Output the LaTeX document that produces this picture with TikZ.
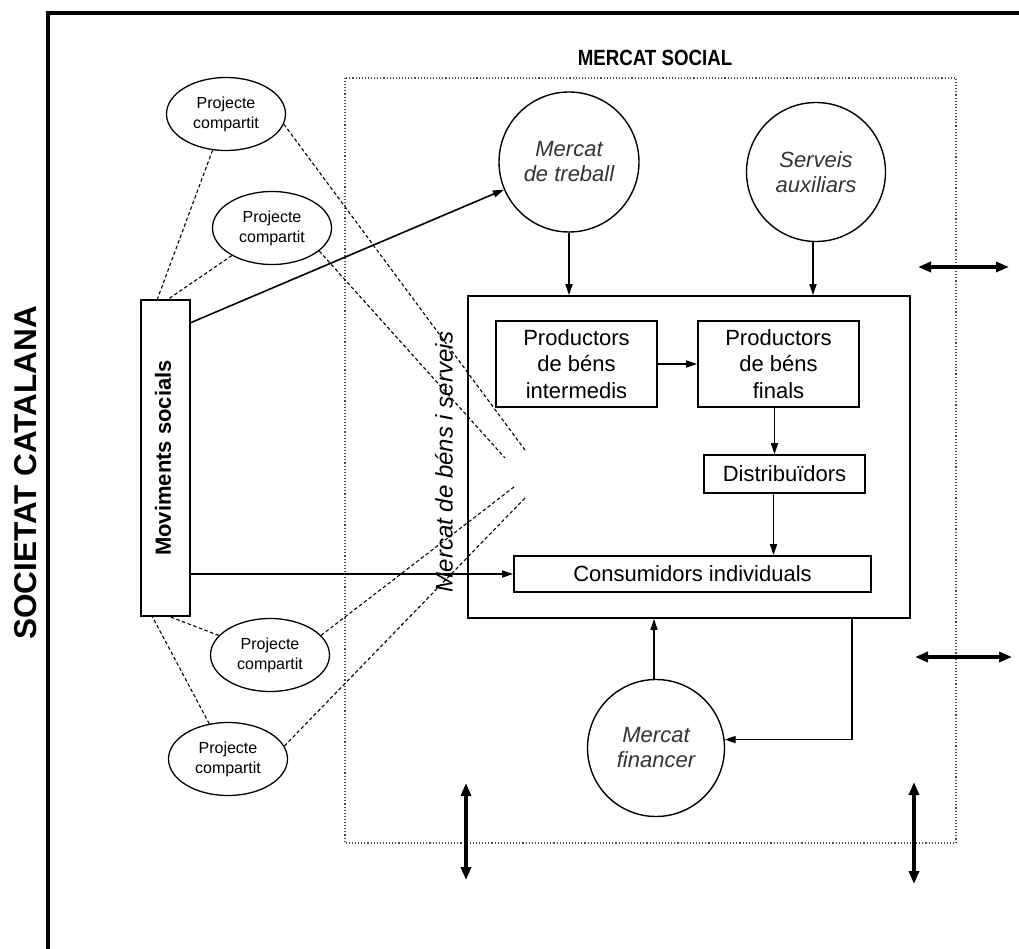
\documentclass[tikz,border=0pt]{standalone}
\usepackage{fontspec}
\setmainfont{Liberation Sans}
\usetikzlibrary{arrows.meta,shapes.geometric}
\begin{document}
\begin{tikzpicture}[x=1pt,y=-1pt,
  box/.style={draw,line width=1.7pt,inner sep=0pt,font=\fontsize{22}{26.5}\selectfont,align=center},
  circ/.style={draw,circle,line width=1.4pt,inner sep=0pt,minimum size=#1,font=\fontsize{22}{25}\selectfont\itshape,text=black!80,align=center},
  proj/.style={draw,ellipse,line width=1.3pt,inner sep=0pt,minimum width=119pt,minimum height=73pt,font=\fontsize{16}{20}\selectfont,align=center},
  arr/.style={-{Triangle[length=11pt,width=7pt]},line width=1.6pt},
  dbl/.style={{Triangle[length=13pt,width=10pt]}-{Triangle[length=13pt,width=10pt]},line width=3.2pt},
  link/.style={dash pattern=on 3.5pt off 2.5pt,line width=1.1pt},
  zone/.style={draw=black!70,line width=1.1pt,dotted},
]
\useasboundingbox (0,0) rectangle (1019,949);
% outer frame
\draw[line width=4.2pt] (48,949) -- (48,13) -- (1019,13);
\node[rotate=90,font=\bfseries\fontsize{31.5}{31.5}\selectfont] (soc) at (26,473) {SOCIETAT CATALANA};
% mercat social zone
\draw[zone] (345,78) rectangle (956,843);
\node[font=\bfseries\fontsize{22}{22}\selectfont,xscale=0.85] (ms) at (655,58) {MERCAT SOCIAL};
% big box and inner boxes
\node[box,minimum width=442pt,minimum height=322pt] (big) at (689,457) {};
\node[box,minimum width=161pt,minimum height=86pt] (pi) at (576.5,364) {Productors\\de béns\\intermedis};
\node[box,minimum width=161pt,minimum height=86pt] (pf) at (778.5,364) {Productors\\de béns\\finals};
\node[box,minimum width=161pt,minimum height=38pt] (dist) at (784.5,474) {Distribuïdors};
\node[box,minimum width=357pt,minimum height=36pt] (cons) at (692.5,574) {Consumidors individuals};
\node[rotate=90,font=\itshape\fontsize{24}{24}\selectfont] (mbs) at (444,462) {Mercat de béns i serveis};
% circles
\node[circ=140pt] (mt) at (569,162) {Mercat\\de treball};
\node[circ=139pt] (sa) at (816,172) {Serveis\\auxiliars};
\node[circ=137pt] (mf) at (656,748) {Mercat\\financer};
% moviments socials
\node[draw,line width=1.7pt,minimum width=49pt,minimum height=316pt,inner sep=0pt] (movt) at (165.5,458) {};
\node[rotate=90,font=\bfseries\fontsize{22}{22}\selectfont] (movtxt) at (163,458) {Moviments socials};
% projecte compartit
\node[proj] (p1) at (226,114) {Projecte\\compartit};
\node[proj] (p2) at (272,228) {Projecte\\compartit};
\node[proj] (p3) at (270,655) {Projecte\\compartit};
\node[proj] (p4) at (228,759) {Projecte\\compartit};
% coordinates
\coordinate (mtop1) at (157,300);
\coordinate (mtop2) at (167,300);
\coordinate (mbot1) at (152,616);
\coordinate (mbot2) at (168,616);
\coordinate (c1) at (525,450);
\coordinate (c2) at (505,458);
\coordinate (c3) at (514,487);
\coordinate (c4) at (525,498);
\coordinate (ma) at (190,323);
\coordinate (mb) at (190,574);
\coordinate (bk) at (852,618);
\coordinate (h1a) at (918,267);
\coordinate (h1b) at (1009,267);
\coordinate (h2a) at (915,657);
\coordinate (h2b) at (1012,657);
\coordinate (v1a) at (466,783);
\coordinate (v1b) at (466,880);
\coordinate (v2a) at (914,782);
\coordinate (v2b) at (914,884);
% dashed links
\draw[link] (p1) -- (mtop1);
\draw[link] (p2) -- (mtop2);
\draw[link] (p3) -- (mbot2);
\draw[link] (p4) -- (mbot1);
\draw[link] (p1.-10) -- (c1);
\draw[link] (p2.-26) -- (c2);
\draw[link] (p3.21) -- (c3);
\draw[link] (p4.13) -- (c4);
% arrows
\draw[arr] (ma) -- (mt);
\draw[arr] (mb) -- (cons.west);
\draw[arr] (mt.south) -- (mt.south |- big.north);
\draw[arr] ([xshift=-3pt]sa.south) -- ([xshift=-3pt]sa.south |- big.north);
\draw[arr] (pi.east) -- (pf.west);
\draw[arr] ([xshift=-4pt]pf.south) -- ([xshift=-4pt]pf.south |- dist.north);
\draw[arr] ([xshift=-11pt]dist.south) -- ([xshift=-11pt]dist.south |- cons.north);
\draw[arr] ([xshift=-2pt]mf.north) -- ([xshift=-2pt]mf.north |- big.south);
\draw[arr] (bk) |- (mf.7);
% double arrows
\draw[dbl] (h1a) -- (h1b);
\draw[dbl] (h2a) -- (h2b);
\draw[dbl] (v1a) -- (v1b);
\draw[dbl] (v2a) -- (v2b);
\end{tikzpicture}
\end{document}
